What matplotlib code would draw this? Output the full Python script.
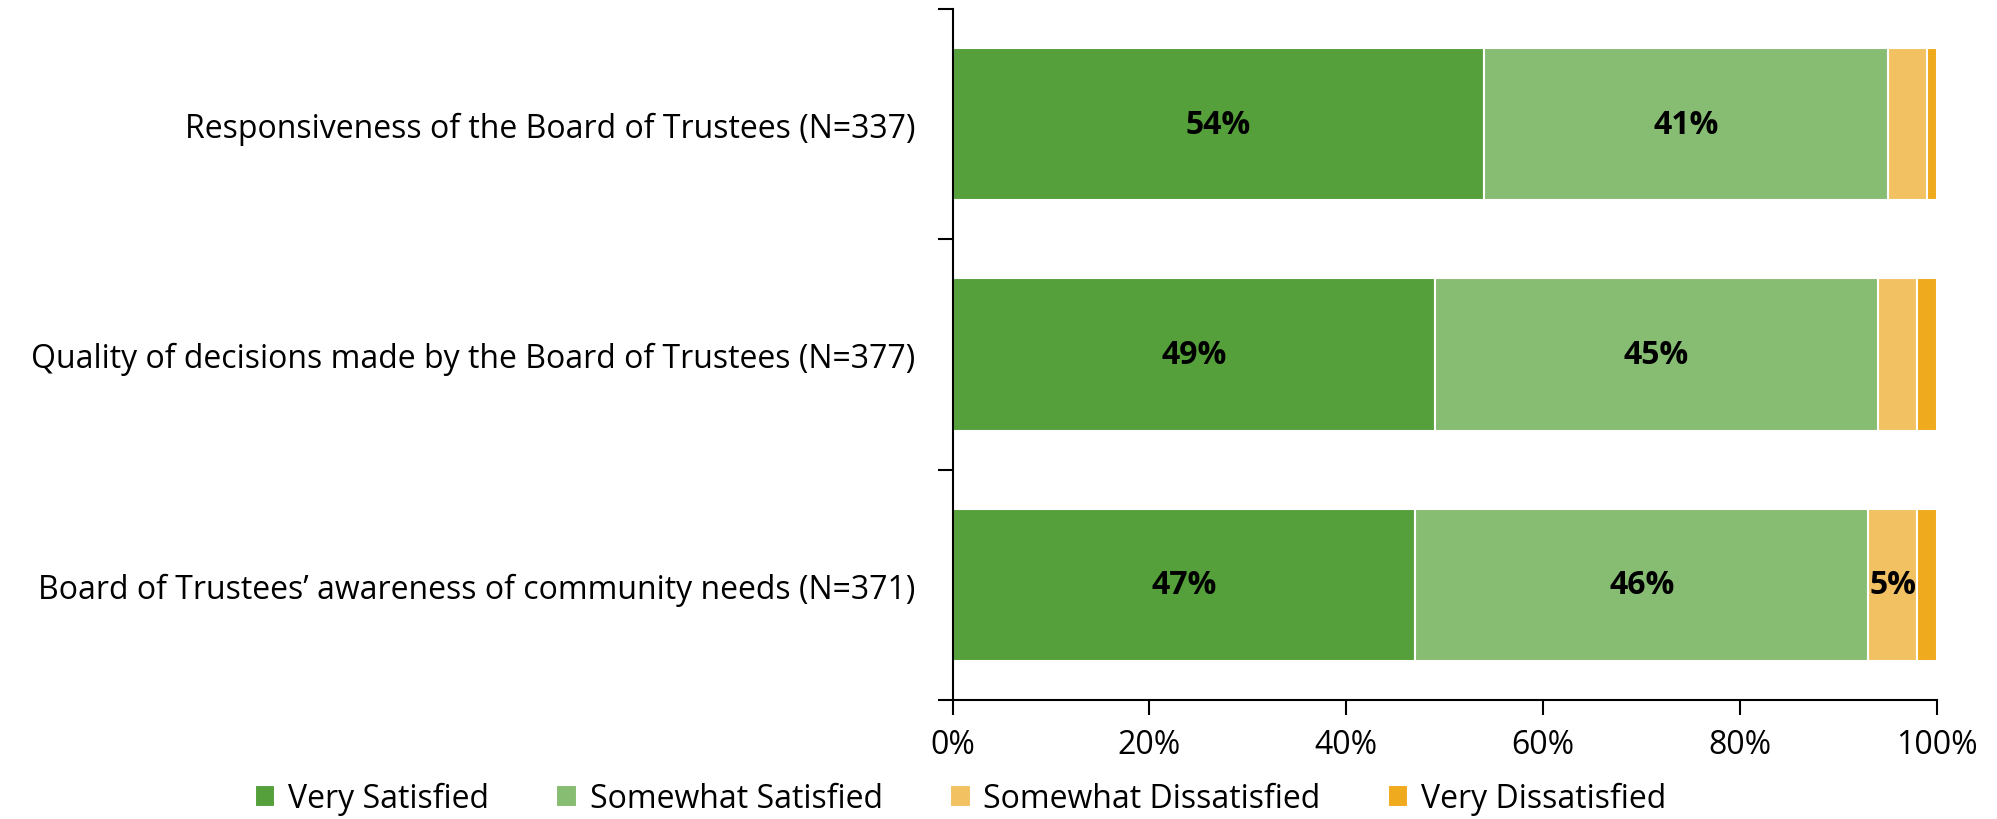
import numpy as np
import matplotlib.pyplot as plt

# survey items, top to bottom
questions = [
    "Responsiveness of the Board of Trustees (N=337)",
    "Quality of decisions made by the Board of Trustees (N=377)",
    "Board of Trustees\u2019 awareness of community needs (N=371)",
]
series_names = ["Very Satisfied", "Somewhat Satisfied",
                "Somewhat Dissatisfied", "Very Dissatisfied"]
very_satisfied = [54, 49, 47]
somewhat_satisfied = [41, 45, 46]
somewhat_dissatisfied = [4, 4, 5]
very_dissatisfied = [1, 2, 2]
xtick_labels = ["0%", "20%", "40%", "60%", "80%", "100%"]

colors = ["#55A03A", "#87BC73", "#F2C262", "#EFAA1D"]
plt.rcParams['font.family'] = ['Open Sans', 'DejaVu Sans']
FS = 23

fig = plt.figure(figsize=(19.97, 8.2), dpi=100)
ax = fig.add_axes([0.477, 0.145, 0.493, 0.843])

y = np.arange(len(questions))
left = np.zeros(len(questions))
all_series = [very_satisfied, somewhat_satisfied,
              somewhat_dissatisfied, very_dissatisfied]
for name, vals, col in zip(series_names, all_series, colors):
    vals = np.array(vals, dtype=float)
    bars = ax.barh(y, vals, left=left, height=0.66, color=col,
                   edgecolor="white", linewidth=1.5, label=name)
    # only the wider segments carry a label
    for b, v in zip(bars, vals):
        if v >= 5:
            ax.text(b.get_x() + b.get_width() / 2, b.get_y() + b.get_height() / 2,
                    f"{v:.0f}%", ha="center", va="center",
                    fontsize=FS, fontweight="bold", color="black")
    left += vals

ax.set_xlim(0, 100)
ax.set_ylim(2.5, -0.5)
ax.set_xticks(np.linspace(0, 100, 6))
ax.set_xticklabels(xtick_labels, fontsize=FS)
ax.tick_params(axis="x", length=11, width=1.5, direction="out", pad=9)
ax.set_yticks(y)
ax.set_yticklabels(questions, fontsize=FS)
ax.tick_params(axis="y", which="major", length=0, pad=27)
ax.set_yticks([-0.5, 0.5, 1.5, 2.5], minor=True)
ax.tick_params(axis="y", which="minor", length=11, width=1.5, direction="out")
for s in ["top", "right"]:
    ax.spines[s].set_visible(False)
ax.spines["left"].set_linewidth(1.5)
ax.spines["bottom"].set_linewidth(1.5)

fig.legend(loc="center", bbox_to_anchor=(0.481, 0.025), ncol=4,
           frameon=False, fontsize=FS, handlelength=0.65, handleheight=0.65,
           handletextpad=0.4, columnspacing=2.1)

fig.savefig("out.png", dpi=100)
